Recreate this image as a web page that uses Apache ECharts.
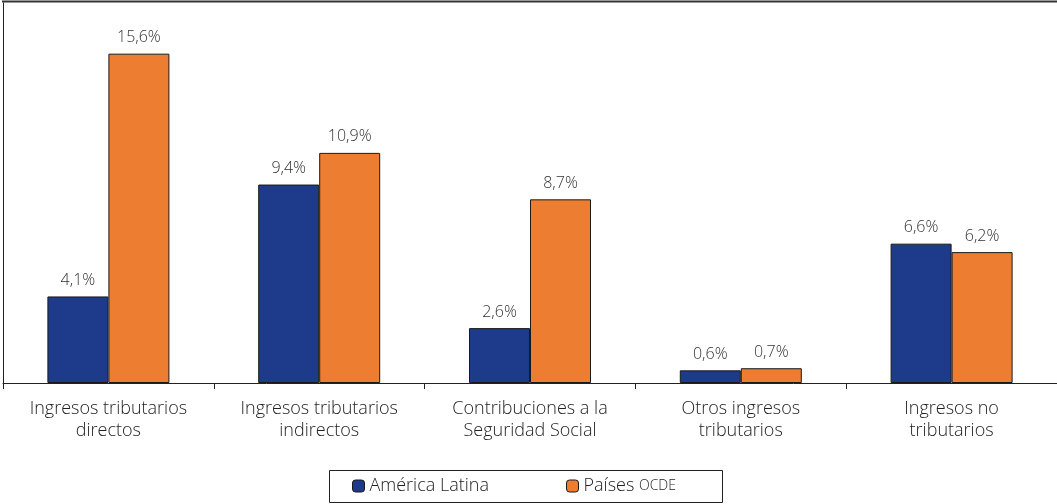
<!DOCTYPE html>
<html>
<head>
<meta charset="utf-8">
<script src="https://cdn.jsdelivr.net/npm/echarts@6/dist/echarts.min.js"></script>
<style>
  html, body { margin: 0; padding: 0; background: #fff; }
  #chart { width: 1057px; height: 504px; }
</style>
</head>
<body>
<div id="chart"></div>
<script>
// Ingresos públicos por tipo, en % del PIB
const categories = [
  'Ingresos tributarios\ndirectos',
  'Ingresos tributarios\nindirectos',
  'Contribuciones a la\nSeguridad Social',
  'Otros ingresos\ntributarios',
  'Ingresos no\ntributarios'
];
const americaLatina = [4.1, 9.4, 2.6, 0.6, 6.6];
const paisesOCDE = [15.6, 10.9, 8.7, 0.7, 6.2];
const seriesNames = ['América Latina', 'Países OCDE'];

const FONT = '"Open Sans", "DejaVu Sans", sans-serif';
const chart = echarts.init(document.getElementById('chart'), null, { renderer: 'canvas' });

const pct = p => p.value.toFixed(1).replace('.', ',') + '%';

const barSeries = (name, data, color) => ({
  name: name,
  type: 'bar',
  data: data,
  barWidth: 61,
  barGap: '0%',
  itemStyle: { color: color, borderColor: '#1a1a1a', borderWidth: 1 },
  label: {
    show: true,
    position: 'top',
    distance: 8,
    formatter: pct,
    fontFamily: FONT,
    fontWeight: 300,
    fontSize: 16,
    color: '#333'
  }
});

const legendText = {
  fontFamily: FONT,
  fontWeight: 300,
  fontSize: 18,
  color: '#222',
  rich: {
    a: { fontFamily: FONT, fontWeight: 300, fontSize: 18, color: '#222' },
    b: { fontFamily: FONT, fontWeight: 300, fontSize: 14, color: '#222' }
  }
};

chart.setOption({
  animation: false,
  backgroundColor: '#fff',
  grid: { left: 3, right: -1, top: 3, bottom: 121 },
  xAxis: {
    type: 'category',
    data: categories,
    axisLine: { show: true, lineStyle: { color: '#222', width: 1 } },
    axisTick: { show: true, length: 6, lineStyle: { color: '#222' } },
    axisLabel: {
      margin: 15,
      interval: 0,
      fontFamily: FONT,
      fontWeight: 300,
      fontSize: 18,
      lineHeight: 22,
      color: '#222'
    }
  },
  yAxis: {
    type: 'value',
    min: 0,
    max: 18,
    axisLine: { show: true, lineStyle: { color: '#222', width: 1 } },
    axisTick: { show: false },
    axisLabel: { show: false },
    splitLine: { show: false }
  },
  legend: [
    {
      data: [seriesNames[0]],
      left: 352, top: 477,
      padding: 0,
      itemWidth: 12, itemHeight: 12,
      itemGap: 6,
      textStyle: legendText,
      itemStyle: { borderColor: '#1a1a1a', borderWidth: 1 }
    },
    {
      data: [seriesNames[1]],
      left: 566, top: 477,
      padding: 0,
      itemWidth: 12, itemHeight: 12,
      itemGap: 6,
      formatter: () => '{a|Países }{b|OCDE}',
      textStyle: legendText,
      itemStyle: { borderColor: '#1a1a1a', borderWidth: 1 }
    }
  ],
  graphic: [
    { type: 'line', shape: { x1: 2, y1: 1.5, x2: 1057, y2: 1.5 }, style: { stroke: '#333', lineWidth: 2 } },
    { type: 'rect', shape: { x: 329.5, y: 470.5, width: 393, height: 32 }, style: { fill: 'none', stroke: '#222', lineWidth: 1 } }
  ],
  series: [
    barSeries(seriesNames[0], americaLatina, '#1e3a8a'),
    barSeries(seriesNames[1], paisesOCDE, '#ed7d31')
  ]
});
</script>
</body>
</html>
